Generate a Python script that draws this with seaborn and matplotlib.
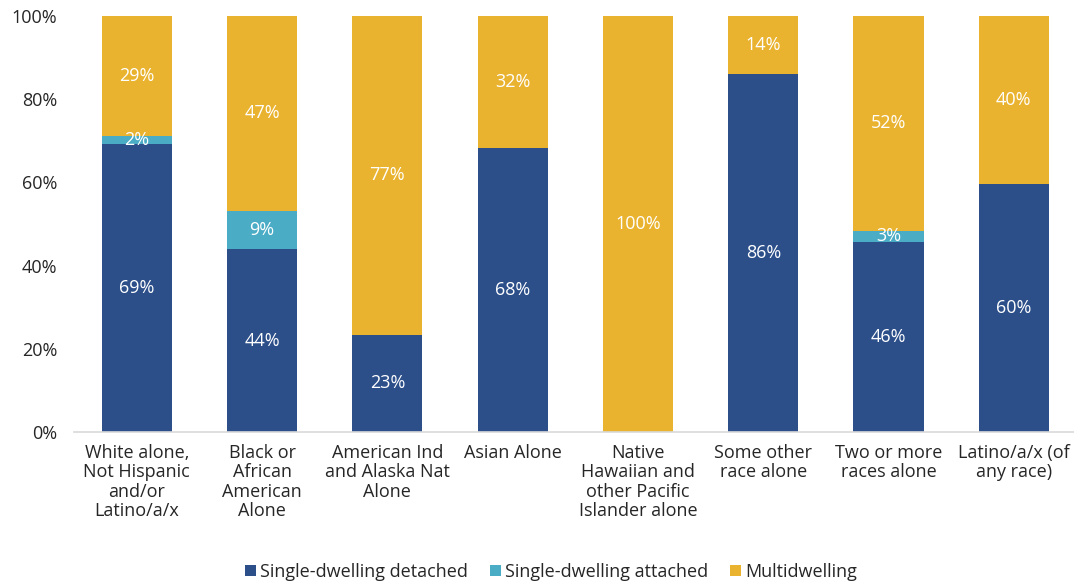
import numpy as np
import pandas as pd
import seaborn as sns
import matplotlib.pyplot as plt

categories = [
    "White alone,\nNot Hispanic\nand/or\nLatino/a/x",
    "Black or\nAfrican\nAmerican\nAlone",
    "American Ind\nand Alaska Nat\nAlone",
    "Asian Alone",
    "Native\nHawaiian and\nother Pacific\nIslander alone",
    "Some other\nrace alone",
    "Two or more\nraces alone",
    "Latino/a/x (of\nany race)",
]
detached = [69.3, 43.9, 23.3, 68.3, 0.0, 86.0, 45.7, 59.7]
attached = [1.8, 9.3, 0.0, 0.0, 0.0, 0.0, 2.6, 0.0]
multi = [28.9, 46.8, 76.7, 31.7, 100.0, 14.0, 51.7, 40.3]

series = ["Single-dwelling detached", "Single-dwelling attached", "Multidwelling"]
colors = ["#2C4F8A", "#4BACC6", "#EAB32F"]


def plot_stacked():
    df = pd.DataFrame({"cat": categories, series[0]: detached,
                       series[1]: attached, series[2]: multi})
    vals = df[series].to_numpy()
    cum = np.cumsum(vals, axis=1)

    sns.set_style("white")
    plt.rcParams["font.family"] = ["Open Sans", "DejaVu Sans"]
    fs = 13

    fig = plt.figure(figsize=(10.74, 5.82), dpi=100)
    ax = fig.add_axes([0.069, 0.258, 0.931, 0.7145])

    # draw cumulative totals from the top layer down
    for i in reversed(range(len(series))):
        sns.barplot(x=df["cat"], y=cum[:, i], color=colors[i], width=0.56,
                    saturation=1, ax=ax, label=series[i], linewidth=0)

    for j in range(len(categories)):
        for i in range(len(series)):
            v = vals[j, i]
            if v <= 0:
                continue
            mid = cum[j, i] - v / 2
            ax.text(j, mid, f"{v:.0f}%", ha="center", va="center",
                    color="white", fontsize=fs)

    ax.set_ylim(0, 100)
    ax.set_xlim(-0.5, len(categories) - 0.52)
    ax.set_yticks(range(0, 101, 20))
    ax.set_yticklabels([f"{t}%" for t in range(0, 101, 20)], fontsize=fs)
    ax.tick_params(axis="x", labelsize=fs, length=0, pad=9)
    ax.tick_params(axis="y", length=0, pad=12)
    for lbl in ax.get_xticklabels():
        lbl.set_linespacing(1.08)
    ax.set_xlabel("")
    ax.set_ylabel("")
    for s in ["top", "right", "left"]:
        ax.spines[s].set_visible(False)
    ax.spines["bottom"].set_color("#D9D9D9")
    ax.spines["bottom"].set_linewidth(1.2)

    handles, labels = ax.get_legend_handles_labels()
    order = [labels.index(s) for s in series]
    ax.legend([handles[k] for k in order], series, loc="lower center",
              bbox_to_anchor=(0.477, -0.398), ncol=3, frameon=False,
              fontsize=fs, handlelength=0.6, handleheight=0.6,
              handletextpad=0.25, columnspacing=1.2)

    fig.savefig("out.png", dpi=100)


if __name__ == "__main__":
    plot_stacked()
